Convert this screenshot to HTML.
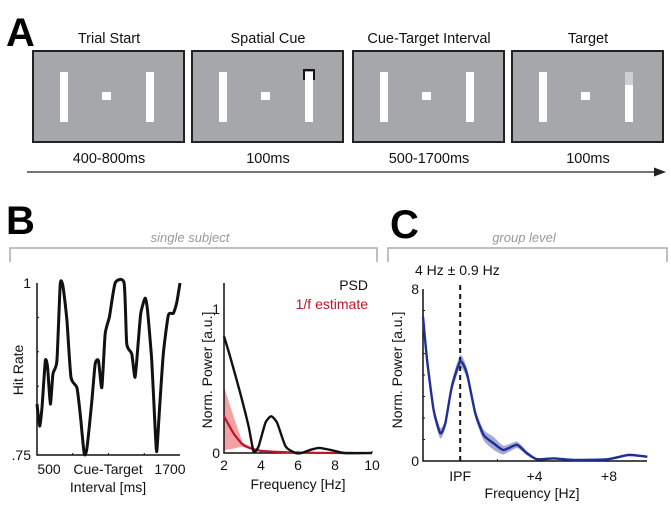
<!DOCTYPE html>
<html><head><meta charset="utf-8"><style>
body{margin:0;background:#fff;}
svg{display:block;font-family:"Liberation Sans",Arial,sans-serif;}
</style></head><body>
<svg id="fig" width="671" height="513" viewBox="0 0 671 513">
 <g>
  <text x="6" y="46" font-size="40" font-weight="bold">A</text>
  <g id="boxes"></g>
  <line x1="27" y1="172" x2="658" y2="172" stroke="#222" stroke-width="1.2"/>
  <polygon points="666,172 654,167.5 654,176.5" fill="#222"/>
 </g>
 <g>
  <text x="6" y="234" font-size="40" font-weight="bold">B</text>
  <text x="190" y="242" font-size="13" font-style="italic" fill="#999" text-anchor="middle">single subject</text>
  <polyline points="10,262 10,248 377,248 377,262" fill="none" stroke="#aaa" stroke-width="1.5"/>
  <g id="hr"></g>
  <g id="psd"></g>
 </g>
 <g>
  <text x="390" y="238" font-size="40" font-weight="bold">C</text>
  <text x="524" y="242" font-size="13" font-style="italic" fill="#999" text-anchor="middle">group level</text>
  <polyline points="388,262 388,248 667,248 667,262" fill="none" stroke="#aaa" stroke-width="1.5"/>
  <g id="grp"></g>
 </g>
</svg>
<script>
// ---- Panel B: hit rate ----
const hrMs=[500,522,542,570,589,612,634,667,695,718,751,785,835,863,896,919,960,988,1016,1044,1072,1108,1156,1231,1253,1295,1323,1351,1371,1407,1427,1463,1491,1505,1527,1560,1602,1644,1672,1700];
const hrVal=[.824,.792,.819,.887,.877,.824,.868,.887,.998,.995,.946,.863,.848,.809,.752,.760,.828,.882,.887,.848,.926,.951,1,1,.912,.897,.863,.917,.956,.978,.961,.887,.789,.755,.814,.897,.953,.956,.971,1];
const hrYTicks=[".75","1"];
const hrXTicks=["500","1700"];
// ---- Panel B: PSD ----
const psdF=[2,2.33,2.87,3.33,3.6,3.87,4.24,4.55,4.87,5.33,5.87,6.2,6.7,7.15,7.8,8.5,10];
const psdP=[.81,.67,.42,.185,.01,.046,.21,.255,.21,.046,0,0,.023,.035,.02,0,0];
const fitF=[2,2.5,3,3.5,4,5,6,8,9];
const fitMean=[.255,.14,.06,.03,.015,.007,.003,0,0];
const fitHi=[.46,.26,.075,.04,.022,.01,.005,.002,0];
const fitLo=[.02,.03,.045,.022,.01,.004,.001,0,0];
const psdXTicks=[2,4,6,8,10];
const psdYTicks=[0,1];
// ---- Panel C: group ----
const gF=[-2,-1.78,-1.43,-1.07,-0.8,-0.45,0,0.36,0.81,1.26,1.8,2.33,3.05,3.59,4.13,5.03,6.1,7.9,9.07,10.06];
const gP=[6.7,4.7,2.38,1.29,1.75,3.46,4.63,4.08,2.22,1.21,.82,.51,.75,.36,.08,.12,.05,.08,.28,.2];
const gErr=[.6,.4,.25,.25,.2,.25,.3,.25,.2,.25,.3,.2,.15,.1,.06,.05,.04,.05,.06,.05];
const gXTicks=[0,4,8];
const gXLabels=["IPF","+4","+8"];
const gYTicks=[0,8];
// ---- Panel A ----
const stages=["Trial Start","Spatial Cue","Cue-Target Interval","Target"];
const durations=["400-800ms","100ms","500-1700ms","100ms"];

const NS="http://www.w3.org/2000/svg";
function mk(p,t,a){const e=document.createElementNS(NS,t);for(const k in a)e.setAttribute(k,a[k]);p.appendChild(e);return e;}
function tx(p,x,y,s,sz,anc,col){const e=mk(p,'text',{x:x,y:y,'font-size':sz,'text-anchor':anc||'middle',fill:col||'#111'});e.textContent=s;return e;}
function smooth(pts,start){
 let d=start?'L'+pts[0][0]+','+pts[0][1]:'M'+pts[0][0]+','+pts[0][1];
 for(let i=0;i<pts.length-1;i++){
  const p0=pts[Math.max(0,i-1)],p1=pts[i],p2=pts[i+1],p3=pts[Math.min(pts.length-1,i+2)];
  const t=0.1;
  d+=' C'+(p1[0]+(p2[0]-p0[0])*t)+','+(p1[1]+(p2[1]-p0[1])*t)+' '+(p2[0]-(p3[0]-p1[0])*t)+','+(p2[1]-(p3[1]-p1[1])*t)+' '+p2[0]+','+p2[1];
 }
 return d;
}

// Panel A
const bx=document.getElementById('boxes');
const bxX=[33,192,353,512];
stages.forEach((s,i)=>{
 const x=bxX[i];
 const t=tx(bx,x+76,43,stages[i],14.5);
 
 
 const r=mk(bx,'rect',{x:x,y:51,width:151,height:91,fill:'#a6a7aa',stroke:'#222','stroke-width':2});
 
 
 mk(bx,'rect',{x:x+27,y:72,width:8,height:50,fill:'#fff'});
 mk(bx,'rect',{x:x+113,y:72,width:8,height:50,fill:'#fff'});
 mk(bx,'rect',{x:x+69,y:92,width:9,height:8,fill:'#fff'});
 if(i==1) mk(bx,'polyline',{points:`${x+112},80 ${x+112},70 ${x+122},70 ${x+122},80`,fill:'none',stroke:'#111','stroke-width':2});
 if(i==3) mk(bx,'rect',{x:x+113,y:72,width:8,height:13,fill:'#cfcfd1'});
 const d=tx(bx,x+76,163,durations[i],14.5);
 
 
});

// Hit rate panel
(function(){
 const g=document.getElementById('hr');
 const X0=37,X1=180,Y0=455,Y1=283;
 const sx=v=>X0+(v-500)/1200*(X1-X0), sy=v=>Y0-(v-.75)/.25*(Y0-Y1);
 const ax=mk(g,'polyline',{points:`${X0},${Y1} ${X0},${Y0} ${X1},${Y0}`,fill:'none',stroke:'#111','stroke-width':1.5});
 
 
 [0.8,0.85,0.9,0.95].forEach(v=>mk(g,'line',{x1:X0,x2:X0+2,y1:sy(v),y2:sy(v),stroke:'#111'}));
 [800,1100,1400].forEach(v=>mk(g,'line',{x1:sx(v),x2:sx(v),y1:Y0,y2:Y0-2,stroke:'#111'}));
 tx(g,X0-6,sy(.75)+5,hrYTicks[0],14,'end');tx(g,X0-6,sy(1)+5,hrYTicks[1],14,'end');
 tx(g,sx(500)+12,474,hrXTicks[0],14);tx(g,sx(1700)-10,474,hrXTicks[1],14);
 const yl=tx(g,0,0,'Hit Rate',14);yl.setAttribute('transform','translate(23,370) rotate(-90)');
 
 tx(g,108,474,'Cue-Target',14);tx(g,108,492,'Interval [ms]',14);
 const l=mk(g,'path',{d:smooth(hrMs.map((m,i)=>[sx(m),sy(hrVal[i])])),fill:'none',stroke:'#111','stroke-width':3,'stroke-linejoin':'round'});
 
 
})();

// PSD panel
(function(){
 const g=document.getElementById('psd');
 const X0=224,X1=372,Y0=453,Y1=283;
 const sx=v=>X0+(v-2)/8*(X1-X0), sy=v=>Y0-v*144;
 const band=fitF.map((f,i)=>sx(f)+','+sy(fitHi[i])).concat(fitF.slice().reverse().map((f,j)=>{const i=fitF.length-1-j;return sx(f)+','+sy(fitLo[i]);})).join(' ');
 const b=mk(g,'polygon',{points:band,fill:'#f08a90',opacity:.8});
 
 
 const ax=mk(g,'polyline',{points:`${X0},${Y1} ${X0},${Y0} ${X1},${Y0}`,fill:'none',stroke:'#111','stroke-width':1.5});
 
 
 psdXTicks.forEach(v=>{mk(g,'line',{x1:sx(v),x2:sx(v),y1:Y0,y2:Y0-2,stroke:'#111'});tx(g,sx(v),470,String(v),14);});
 psdYTicks.forEach(v=>tx(g,X0-4,sy(v)+5,String(v),14,'end'));
 const yl=tx(g,0,0,'Norm. Power [a.u.]',14);yl.setAttribute('transform','translate(212,370) rotate(-90)');
 
 tx(g,298,489,'Frequency [Hz]',14);
 const m=mk(g,'path',{d:smooth(fitF.map((f,i)=>[sx(f),sy(fitMean[i])])),fill:'none',stroke:'#c0142a','stroke-width':2.2});
 
 
 const l=mk(g,'path',{d:smooth(psdF.map((f,i)=>[sx(f),sy(psdP[i])])),fill:'none',stroke:'#111','stroke-width':2.4,'stroke-linejoin':'round'});
 
 
 const t1=tx(g,368,290,'PSD',14,'end');
 const t2=tx(g,368,309,'1/f estimate',14,'end','#c0142a');
})();

// Group panel
(function(){
 const g=document.getElementById('grp');
 const X0=423,X1=647,Y0=461,Y1=289;
 const sx=v=>X0+(v+2)*18.6, sy=v=>Y0-v/8*(Y0-Y1);
 const up=gF.map((f,i)=>[sx(f),sy(gP[i]+gErr[i])]);
 const lo=gF.map((f,i)=>[sx(f),sy(Math.max(0,gP[i]-gErr[i]))]).reverse();
 const b=mk(g,'path',{d:smooth(up)+' '+smooth(lo,true)+' Z',fill:'#7d86c2',opacity:.7});
 
 
 const ax=mk(g,'polyline',{points:`${X0},${Y1} ${X0},${Y0} ${X1},${Y0}`,fill:'none',stroke:'#111','stroke-width':1.5});
 
 
 [1,2,3,4,5,6,7].forEach(v=>mk(g,'line',{x1:X0,x2:X0+2,y1:sy(v),y2:sy(v),stroke:'#111'}));
 gXTicks.forEach((v,i)=>tx(g,sx(v),481,gXLabels[i],14));
 [2,6].forEach(v=>mk(g,'line',{x1:sx(v),x2:sx(v),y1:Y0,y2:Y0-2,stroke:'#111'}));
 gYTicks.forEach(v=>tx(g,X0-4,sy(v)+5,String(v),14,'end'));
 const yl=tx(g,0,0,'Norm. Power [a.u.]',14);yl.setAttribute('transform','translate(402,370) rotate(-90)');
 
 tx(g,532,498,'Frequency [Hz]',14);
 const d=mk(g,'line',{x1:sx(0),x2:sx(0),y1:285,y2:Y0,stroke:'#111','stroke-width':2,'stroke-dasharray':'5,4'});
 
 
 const l=mk(g,'path',{d:smooth(gF.map((f,i)=>[sx(f),sy(gP[i])])),fill:'none',stroke:'#1f2f96','stroke-width':2.4,'stroke-linejoin':'round'});
 
 
 const t=tx(g,415,275,'4 Hz ± 0.9 Hz',14,'start');
})();
</script>
</body></html>
